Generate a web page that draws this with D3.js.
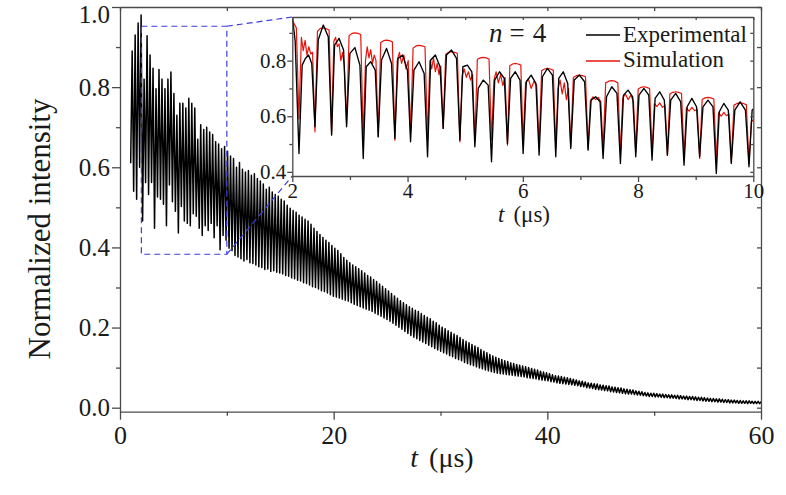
<!DOCTYPE html>
<html>
<head>
<meta charset="utf-8">
<script src="https://cdn.jsdelivr.net/npm/d3@7"></script>
<style>
  html, body { margin: 0; padding: 0; background: #fff; }
  svg text { font-family: "Liberation Serif", "Times New Roman", serif; fill: #1a1a1a; }
</style>
</head>
<body>
<div id="chart"></div>
<script>
// ---- main trace: one trough + one peak per oscillation cycle, sampled every mainDt (us)
var mainT0 = 1.0;
var mainDt = 0.279;
var mainTrough = [
  0.61, 0.54, 0.52, 0.60, 0.466, 0.562, 0.532, 0.562, 0.448, 0.526, 0.52, 0.508, 0.454, 0.556, 0.514, 0.49,
  0.436, 0.502, 0.466, 0.46, 0.454, 0.484, 0.478, 0.448, 0.43, 0.454, 0.442, 0.46, 0.424, 0.454, 0.394, 0.43, 0.418,
  0.398, 0.392, 0.380, 0.376, 0.372, 0.366, 0.370, 0.362, 0.360, 0.356,
  0.352, 0.350, 0.345, 0.346, 0.340, 0.342, 0.338, 0.336, 0.334, 0.330,
  0.328, 0.324, 0.322, 0.318, 0.316, 0.312, 0.310, 0.306, 0.302, 0.300,
  0.296, 0.292, 0.290, 0.286, 0.282, 0.278, 0.276, 0.274, 0.271, 0.268,
  0.266, 0.262, 0.258, 0.255, 0.252, 0.249, 0.246, 0.243, 0.240, 0.236,
  0.232, 0.228, 0.224, 0.220, 0.216, 0.211, 0.206, 0.201, 0.196, 0.190,
  0.185, 0.180, 0.176, 0.172, 0.168, 0.164, 0.160, 0.156, 0.152, 0.148,
  0.144, 0.141, 0.137, 0.134, 0.130, 0.127, 0.123, 0.120, 0.117, 0.113,
  0.110, 0.107, 0.105, 0.102, 0.099, 0.097, 0.094, 0.092, 0.090, 0.088,
  0.086, 0.085, 0.084, 0.083, 0.082, 0.081, 0.080, 0.079, 0.078, 0.077,
  0.075, 0.074, 0.073, 0.072, 0.070, 0.069, 0.068, 0.067, 0.065, 0.064,
  0.062, 0.061, 0.060, 0.059, 0.058, 0.057, 0.056, 0.055, 0.053, 0.052,
  0.050, 0.049, 0.048, 0.046, 0.045, 0.044, 0.043, 0.042, 0.040, 0.039,
  0.038, 0.037, 0.036, 0.035, 0.034, 0.034, 0.033, 0.032, 0.031, 0.030,
  0.029, 0.028, 0.028, 0.027, 0.027, 0.026, 0.025, 0.025, 0.024, 0.024,
  0.023, 0.022, 0.022, 0.021, 0.020, 0.020, 0.019, 0.018, 0.018, 0.017,
  0.016, 0.016, 0.015, 0.015, 0.014, 0.014, 0.013, 0.013, 0.012, 0.012,
  0.012, 0.011, 0.011, 0.011, 0.010, 0.011, 0.010, 0.010, 0.010
];
var mainPeak = [
  0.89, 0.93, 0.96, 0.98, 0.82, 0.928, 0.88, 0.847, 0.796, 0.844, 0.82, 0.796, 0.82, 0.838, 0.784, 0.73,
  0.76, 0.76, 0.748, 0.772, 0.76, 0.748, 0.67, 0.706, 0.694, 0.70, 0.688, 0.682, 0.664, 0.658, 0.646, 0.652, 0.64,
  0.628, 0.622, 0.600, 0.612, 0.595, 0.588, 0.592, 0.580, 0.584, 0.572,
  0.566, 0.558, 0.545, 0.550, 0.538, 0.532, 0.528, 0.520, 0.516, 0.505,
  0.498, 0.492, 0.488, 0.480, 0.476, 0.470, 0.466, 0.458, 0.448, 0.440,
  0.432, 0.425, 0.418, 0.412, 0.405, 0.398, 0.392, 0.384, 0.375, 0.368,
  0.362, 0.356, 0.352, 0.347, 0.342, 0.336, 0.330, 0.326, 0.320, 0.315,
  0.309, 0.303, 0.297, 0.291, 0.285, 0.279, 0.273, 0.267, 0.262, 0.257,
  0.252, 0.248, 0.243, 0.240, 0.235, 0.230, 0.226, 0.222, 0.216, 0.212,
  0.206, 0.201, 0.197, 0.192, 0.188, 0.184, 0.180, 0.175, 0.170, 0.166,
  0.162, 0.158, 0.154, 0.150, 0.145, 0.141, 0.137, 0.133, 0.129, 0.126,
  0.123, 0.120, 0.117, 0.115, 0.112, 0.110, 0.108, 0.106, 0.104, 0.102,
  0.100, 0.098, 0.096, 0.094, 0.091, 0.089, 0.087, 0.085, 0.082, 0.080,
  0.079, 0.078, 0.076, 0.075, 0.073, 0.071, 0.069, 0.067, 0.066, 0.064,
  0.062, 0.061, 0.060, 0.059, 0.057, 0.056, 0.055, 0.054, 0.052, 0.051,
  0.050, 0.049, 0.047, 0.046, 0.045, 0.044, 0.042, 0.041, 0.040, 0.038,
  0.037, 0.036, 0.036, 0.035, 0.034, 0.034, 0.033, 0.032, 0.032, 0.031,
  0.031, 0.030, 0.029, 0.029, 0.028, 0.028, 0.027, 0.026, 0.026, 0.025,
  0.024, 0.023, 0.023, 0.022, 0.022, 0.021, 0.020, 0.020, 0.019, 0.019,
  0.018, 0.018, 0.017, 0.017, 0.017, 0.016, 0.016, 0.016, 0.015
];

// ---- inset (2-10 us): dip times, dip values and the values across each plateau
var insetDipT = [2.116, 2.393, 2.682, 2.942, 3.231, 3.491, 3.780, 4.052, 4.347, 4.618, 4.908, 5.168, 5.457, 5.734, 6.006,
  6.283, 6.572, 6.832, 7.133, 7.393, 7.694, 7.960, 8.243, 8.509, 8.798, 9.069, 9.358, 9.618, 9.925, 10.2];

var expLead = [[2.0, 0.96], [2.05, 0.87]];
var expDip = [0.466, 0.562, 0.532, 0.562, 0.448, 0.526, 0.52, 0.508, 0.454, 0.556, 0.514, 0.49, 0.436, 0.502, 0.466,
  0.46, 0.454, 0.484, 0.478, 0.448, 0.43, 0.454, 0.442, 0.46, 0.424, 0.454, 0.394, 0.43, 0.418];
var expTop = [
  [0.784, 0.808, 0.82, 0.79], [0.875, 0.928, 0.886], [0.856, 0.88, 0.838], [0.826, 0.847, 0.784], [0.778, 0.796, 0.766],
  [0.802, 0.844, 0.79], [0.808, 0.82, 0.766], [0.766, 0.796, 0.754], [0.802, 0.82, 0.778], [0.82, 0.838, 0.808],
  [0.778, 0.784, 0.76], [0.70, 0.73, 0.712], [0.73, 0.76, 0.736], [0.736, 0.76, 0.73], [0.724, 0.748, 0.718],
  [0.742, 0.772, 0.748], [0.736, 0.76, 0.718], [0.73, 0.748, 0.724], [0.658, 0.67, 0.652], [0.67, 0.706, 0.682],
  [0.676, 0.694, 0.67], [0.676, 0.70, 0.676], [0.664, 0.688, 0.658], [0.658, 0.682, 0.652], [0.634, 0.664, 0.634],
  [0.634, 0.658, 0.634], [0.616, 0.646, 0.622], [0.622, 0.652, 0.622], [0.622, 0.64, 0.62]
];

var simLead = [[2.0, 0.945], [2.07, 0.918]];
var simDip = [0.59, 0.544, 0.538, 0.574, 0.52, 0.526, 0.514, 0.538, 0.52, 0.556, 0.508, 0.508, 0.514, 0.496, 0.502,
  0.49, 0.484, 0.49, 0.484, 0.478, 0.466, 0.472, 0.466, 0.46, 0.454, 0.448, 0.442, 0.436, 0.43];
var simTop = [
  [0.884, 0.836, 0.873, 0.82, 0.85, 0.824, 0.83], [0.905, 0.916, 0.918, 0.915, 0.91],
  [0.87, 0.884, 0.85, 0.86, 0.80, 0.83, 0.78], [0.89, 0.898, 0.90, 0.898, 0.894],
  [0.80, 0.85, 0.81, 0.84, 0.79, 0.82, 0.80], [0.865, 0.872, 0.874, 0.872, 0.868],
  [0.80, 0.83, 0.79, 0.82, 0.77, 0.80], [0.845, 0.853, 0.855, 0.853, 0.85],
  [0.80, 0.77, 0.81, 0.76, 0.79, 0.75, 0.78], [0.822, 0.83, 0.832, 0.83, 0.826],
  [0.745, 0.77, 0.74, 0.76, 0.73, 0.75], [0.805, 0.81, 0.812, 0.81, 0.806],
  [0.73, 0.76, 0.72, 0.75, 0.71, 0.74], [0.782, 0.788, 0.79, 0.788, 0.784],
  [0.72, 0.735, 0.70, 0.725, 0.71], [0.764, 0.77, 0.772, 0.77, 0.766],
  [0.70, 0.73, 0.68, 0.72, 0.66, 0.70], [0.74, 0.746, 0.748, 0.746, 0.742],
  [0.655, 0.67, 0.66, 0.668, 0.652], [0.72, 0.726, 0.728, 0.726, 0.72],
  [0.665, 0.68, 0.66, 0.675, 0.655], [0.698, 0.704, 0.706, 0.704, 0.70],
  [0.645, 0.635, 0.648, 0.632, 0.64], [0.68, 0.686, 0.688, 0.686, 0.682],
  [0.63, 0.618, 0.632, 0.62, 0.625], [0.66, 0.666, 0.668, 0.666, 0.662],
  [0.612, 0.60, 0.614, 0.602, 0.608], [0.64, 0.646, 0.648, 0.646, 0.642],
  [0.58, 0.60, 0.60]
];

// ---- axes / ticks
var xMajor = [0, 20, 40, 60], xMinor = [10, 30, 50], xTop = [0, 10, 20, 30, 40, 50, 60];
var yMajor = [0, 0.2, 0.4, 0.6, 0.8, 1.0], yMinor = [0.1, 0.3, 0.5, 0.7, 0.9];
var yRight = [0, 0.1, 0.2, 0.3, 0.4, 0.5, 0.6, 0.7, 0.8, 0.9, 1.0];
var inXMajor = [2, 4, 6, 8, 10], inXMinor = [3, 5, 7, 9], inXTop = [2, 3, 4, 5, 6, 7, 8, 9, 10];
var inYMajor = [0.4, 0.6, 0.8], inYMinor = [0.5, 0.7, 0.9], inYRight = [0.4, 0.5, 0.6, 0.7, 0.8, 0.9];
var zoomT = [2, 10], zoomY = [0.383, 0.952];

var W = 786, H = 495;
var AX = "#4a4a4a";

var svg = d3.select("#chart").append("svg").attr("width", W).attr("height", H);

var x = d3.scaleLinear().domain([0, 60]).range([120, 761]);
var y = d3.scaleLinear().domain([-0.01, 1.0]).range([411.7, 7]);

var xi = d3.scaleLinear().domain([2, 10]).range([292.3, 753.3]);
var yi = d3.scaleLinear().domain([0.385, 0.957]).range([176, 17]);

function styleAxis(g, fs) {
  g.select(".domain").attr("stroke", AX).attr("stroke-width", 1.3);
  g.selectAll(".tick line").attr("stroke", AX).attr("stroke-width", 1.3);
  g.selectAll("text").attr("font-size", fs);
}
function addAxis(gen, tx, ty, fs, keepDomain) {
  var g = svg.append("g").attr("transform", "translate(" + tx + "," + ty + ")").call(gen);
  styleAxis(g, fs);
  if (!keepDomain) g.select(".domain").remove();
  return g;
}
var none = function () { return ""; };

// main data
var mainPts = [];
mainTrough.forEach(function (v, i) {
  var t = mainT0 + i * mainDt;
  mainPts.push([t, v]);
  if (i < mainPeak.length) mainPts.push([t + mainDt / 2, mainPeak[i]]);
});

svg.append("clipPath").attr("id", "clipMain").append("rect")
  .attr("x", 120).attr("y", 7).attr("width", 641).attr("height", 404.7);

var line = d3.line().x(function (d) { return x(d[0]); }).y(function (d) { return y(d[1]); });
svg.append("path").datum(mainPts)
  .attr("clip-path", "url(#clipMain)")
  .attr("d", line)
  .attr("fill", "none").attr("stroke", "#000").attr("stroke-width", 1.5).attr("stroke-linejoin", "round");

// main axes
addAxis(d3.axisBottom(x).tickValues(xMajor).tickSize(8).tickSizeOuter(0).tickPadding(6).tickFormat(d3.format("d")), 0, 411.7, 26, true);
addAxis(d3.axisBottom(x).tickValues(xMinor).tickSize(4).tickFormat(none), 0, 411.7, 26, false);
var gyl = addAxis(d3.axisLeft(y).tickValues(yMajor).tickSize(8).tickSizeOuter(0).tickPadding(2).tickFormat(d3.format(".1f")), 120, 0, 25, true);
gyl.selectAll(".tick text").filter(function (d) { return d === 1.0; }).attr("dy", "0.62em");
addAxis(d3.axisLeft(y).tickValues(yMinor).tickSize(4).tickFormat(none), 120, 0, 26, false);
addAxis(d3.axisTop(x).tickValues(xTop).tickSizeInner(-4).tickSizeOuter(0).tickFormat(none), 0, 7, 26, true);
addAxis(d3.axisRight(y).tickValues(yRight).tickSizeInner(-4).tickSizeOuter(0).tickFormat(none), 761, 0, 26, true);

// zoom box + connectors
var BLUE = "#3d3de0";
svg.append("rect")
  .attr("x", x(zoomT[0])).attr("y", y(zoomY[1]))
  .attr("width", x(zoomT[1]) - x(zoomT[0])).attr("height", y(zoomY[0]) - y(zoomY[1]))
  .attr("fill", "none").attr("stroke", BLUE).attr("stroke-width", 1.2).attr("stroke-dasharray", "6,4");
svg.append("line")
  .attr("x1", x(zoomT[1])).attr("y1", y(zoomY[1])).attr("x2", xi.range()[0]).attr("y2", yi.range()[1])
  .attr("stroke", BLUE).attr("stroke-width", 1.2).attr("stroke-dasharray", "6,4");
svg.append("line")
  .attr("x1", x(zoomT[1])).attr("y1", y(zoomY[0])).attr("x2", xi.range()[0]).attr("y2", yi.range()[0])
  .attr("stroke", BLUE).attr("stroke-width", 1.2).attr("stroke-dasharray", "6,4");

// inset
svg.append("rect").attr("x", 292.3).attr("y", 17).attr("width", 461).attr("height", 159).attr("fill", "#fff");
svg.append("clipPath").attr("id", "clipIn").append("rect")
  .attr("x", 292.3).attr("y", 17).attr("width", 461).attr("height", 159);

function buildInset(lead, dips, tops, pad) {
  var pts = lead.slice();
  dips.forEach(function (d, i) {
    var t0 = insetDipT[i], t1 = insetDipT[i + 1];
    pts.push([t0, d]);
    var vals = tops[i], n = vals.length;
    vals.forEach(function (v, k) {
      pts.push([t0 + (t1 - t0) * (pad + (1 - 2 * pad) * k / (n - 1)), v]);
    });
  });
  return pts;
}
var expPts = buildInset(expLead, expDip, expTop, 0.2);
var simPts = buildInset(simLead, simDip, simTop, 0.15);

var lineIn = d3.line().x(function (d) { return xi(d[0]); }).y(function (d) { return yi(d[1]); });
svg.append("path").datum(simPts).attr("clip-path", "url(#clipIn)").attr("d", lineIn)
  .attr("fill", "none").attr("stroke", "#e8140c").attr("stroke-width", 1.2).attr("stroke-linejoin", "round");
svg.append("path").datum(expPts).attr("clip-path", "url(#clipIn)").attr("d", lineIn)
  .attr("fill", "none").attr("stroke", "#000").attr("stroke-width", 1.35).attr("stroke-linejoin", "round");

addAxis(d3.axisBottom(xi).tickValues(inXMajor).tickSize(6).tickSizeOuter(0).tickPadding(1).tickFormat(d3.format("d")), 0, 176, 21, true);
addAxis(d3.axisBottom(xi).tickValues(inXMinor).tickSize(4).tickFormat(none), 0, 176, 21, false);
addAxis(d3.axisLeft(yi).tickValues(inYMajor).tickSize(5).tickSizeOuter(0).tickPadding(1).tickFormat(d3.format(".1f")), 292.3, 0, 21, true);
addAxis(d3.axisLeft(yi).tickValues(inYMinor).tickSize(3).tickFormat(none), 292.3, 0, 21, false);
addAxis(d3.axisTop(xi).tickValues(inXTop).tickSizeInner(-3).tickSizeOuter(0).tickFormat(none), 0, 17, 21, true);
addAxis(d3.axisRight(yi).tickValues(inYRight).tickSizeInner(-3).tickSizeOuter(0).tickFormat(none), 753.3, 0, 21, true);

// legend
var legend = [["Experimental", "#000", 35, 42], ["Simulation", "#e8140c", 61, 67]];
legend.forEach(function (l) {
  svg.append("line").attr("x1", 586).attr("x2", 620).attr("y1", l[2]).attr("y2", l[2])
    .attr("stroke", l[1]).attr("stroke-width", 1.3);
  svg.append("text").attr("x", 623).attr("y", l[3]).attr("font-size", 23).text(l[0]);
});

var nt = svg.append("text").attr("x", 489).attr("y", 42).attr("font-size", 27);
nt.append("tspan").attr("font-style", "italic").text("n");
nt.append("tspan").attr("dx", 7).text("=");
nt.append("tspan").attr("dx", 8).text("4");

// axis labels
var xl = svg.append("text").attr("x", 442).attr("y", 467).attr("font-size", 28).attr("text-anchor", "middle");
xl.append("tspan").attr("font-style", "italic").text("t");
xl.append("tspan").attr("dx", 11).text("(μs)");

var xil = svg.append("text").attr("x", 524).attr("y", 222).attr("font-size", 23).attr("text-anchor", "middle");
xil.append("tspan").attr("font-style", "italic").text("t");
xil.append("tspan").attr("dx", 9).text("(μs)");

svg.append("text")
  .attr("transform", "translate(50,229) rotate(-90)")
  .attr("text-anchor", "middle").attr("font-size", 31)
  .text("Normalized intensity");
</script>
</body>
</html>
